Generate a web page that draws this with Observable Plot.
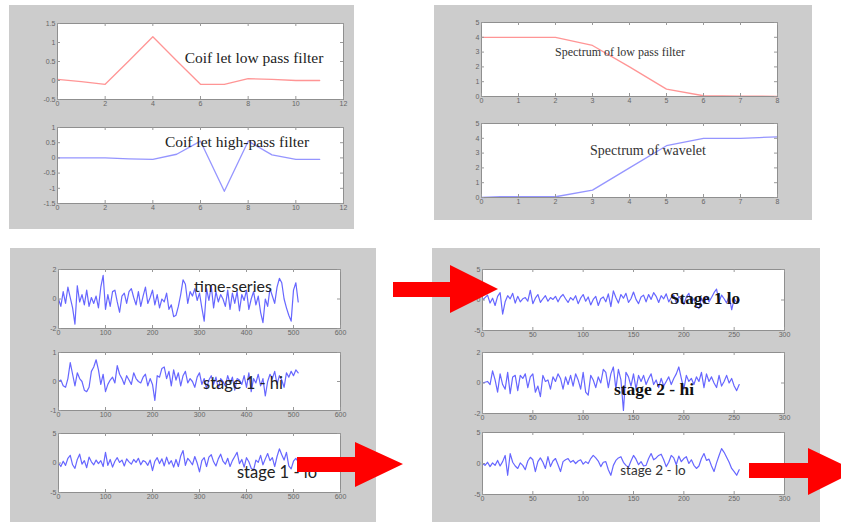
<!DOCTYPE html>
<html><head><meta charset="utf-8">
<script src="https://cdn.jsdelivr.net/npm/d3@7"></script>
<script src="https://cdn.jsdelivr.net/npm/@observablehq/plot@0.6"></script>
<style>
html,body{margin:0;padding:0;background:#fff;}
#root{position:relative;width:841px;height:522px;overflow:hidden;background:#fff;}
.panel{position:absolute;background:#cccccc;}
.lbl{position:absolute;white-space:nowrap;transform:translate(-50%,-50%);color:#222;line-height:1;}
#arrows{position:absolute;left:0;top:0;z-index:5;}
</style></head><body><div id="root"></div>
<script>
// ---------- data ----------
const filterX = [0,1,2,3,4,5,6,7,8,9,10,11];
const lowPass = [0.03,-0.03,-0.1,0.52,1.15,0.52,-0.1,-0.1,0.05,0.03,0.0,0.0];
const highPass = [0,0,0,-0.03,-0.05,0.12,0.55,-1.1,0.55,0.1,-0.05,-0.05];
const filterXTicks = [0,2,4,6,8,10,12];
const lowYTicks = [-0.5,0,0.5,1,1.5];
const highYTicks = [-1.5,-1,-0.5,0,0.5,1];

const specX = [0,0.5,1,2,3,4,5,6,7,7.5,8];
const specLow = [4,4,4,4,3.45,2,0.5,0.05,0.03,0.03,0];
const specWave = [0,0.05,0.05,0.05,0.5,2,3.5,4,4,4.05,4.1];
const specXTicks = [0,1,2,3,4,5,6,7,8];
const specYTicks = [0,1,2,3,4,5];

const timeSeries = [0.0,-0.5,0.5,-0.3,0.8,0.1,-0.6,-1.7,0.9,-0.2,0.3,-0.4,0.6,-0.5,0.1,-0.3,0.2,-0.6,0.8,1.6,-0.7,0.3,-0.5,0.5,0.6,-0.2,-0.9,0.2,0.4,-0.3,0.5,0.7,0.1,-0.4,0.5,-0.5,0.2,0.8,-0.3,0.1,0.6,-0.4,0.3,-0.6,0.0,-0.2,0.4,-0.7,-0.4,-1.2,-1.1,-0.5,0.3,1.3,1.0,-0.3,0.5,0.2,0.7,-0.1,0.4,-0.6,-1.5,0.7,-0.1,0.9,-0.6,0.5,-0.2,0.3,0.0,-0.5,0.6,-0.7,0.4,-0.3,0.5,-0.8,0.3,-0.1,0.6,-0.7,0.0,0.5,-0.4,0.2,-0.9,-1.6,0.0,-0.5,0.7,0.2,-0.3,0.8,1.4,1.1,0.0,-0.6,-1.1,-1.5,0.6,1.1,-0.2];
const stage1Hi = [0.0,0.05,-0.15,-0.2,0.1,0.65,0.25,-0.15,0.3,0.1,0.0,-0.3,-0.35,-0.2,0.35,0.5,0.75,0.4,-0.1,0.25,-0.35,-0.1,0.05,0.15,-0.05,0.55,0.25,0.1,-0.1,0.2,0.05,-0.1,0.3,0.1,0.0,-0.05,0.15,0.25,-0.15,0.1,-0.1,-0.65,0.2,0.15,0.45,0.5,0.1,0.35,-0.15,0.4,0.05,0.3,-0.15,0.2,0.35,-0.05,0.1,0.0,-0.2,0.15,0.3,-0.1,0.1,-0.25,0.05,0.2,-0.1,0.15,-0.25,0.1,0.0,-0.15,0.2,-0.05,0.15,-0.3,0.1,0.05,-0.1,0.2,-0.2,0.3,-0.35,0.1,-0.05,0.25,-0.15,0.1,-0.5,0.0,0.25,0.1,0.35,-0.1,0.2,0.05,-0.2,0.3,0.15,0.35,0.2,0.4,0.3];
const stage1Lo = [0.0,-0.6,0.3,-0.4,0.8,1.3,-0.3,-0.9,0.6,1.5,-0.2,0.4,-0.8,1.0,0.2,-0.3,0.5,-0.1,0.4,-0.6,1.8,-0.4,0.6,-0.7,0.3,0.9,0.1,0.5,-0.5,0.7,0.2,-0.2,0.6,0.1,0.8,-0.3,0.4,0.2,-0.4,0.5,-1.3,0.3,0.9,-0.1,0.7,-0.5,1.0,-0.2,0.4,-0.7,0.6,-0.6,1.2,2.1,-0.4,0.8,0.3,-0.3,1.1,0.0,-1.5,0.4,0.9,-0.6,1.0,1.4,0.2,-0.5,0.7,1.5,0.3,-0.2,0.8,-0.6,0.4,1.1,1.8,-0.1,0.6,-0.7,0.9,0.2,-0.9,-1.2,0.5,0.1,1.3,-0.3,0.7,1.6,0.4,0.9,-0.6,1.1,2.4,1.4,0.5,1.8,-0.5,-1.0,0.3,0.8,0.2];
const longXTicks = [0,100,200,300,400,500,600];
const tsYTicks = [-2,0,2];
const hi1YTicks = [-1,0,1];
const lo1YTicks = [-5,0,5];

const stage1LoDown = [0.0,0.4,0.8,-0.5,0.3,-0.9,0.6,1.2,-2.3,-0.3,0.7,0.2,1.1,-0.5,0.6,-0.3,0.2,0.4,-0.2,1.6,-0.6,0.3,0.9,-0.4,0.2,0.7,-0.2,0.4,0.1,0.6,-0.3,0.5,0.9,0.2,-0.4,0.4,0.0,0.7,-0.6,0.3,0.9,-0.2,0.5,-0.8,0.1,0.6,-0.9,0.2,0.5,-0.3,1.0,-1.1,1.5,0.4,-0.5,0.9,0.3,1.1,-0.4,0.2,1.3,0.1,-0.6,0.5,0.8,-0.3,0.9,0.1,1.2,0.6,-0.4,0.7,0.2,1.0,-0.3,0.4,0.8,-0.5,0.6,0.1,-0.7,0.5,1.1,-0.4,0.2,-1.0,-1.4,0.3,-0.6,0.6,-0.3,0.4,1.2,1.8,-0.3,0.8,0.2,-0.5,0.7,-1.6,0.2,-0.4,0.0];
const stage2Hi = [0.0,0.05,0.1,-0.1,0.8,0.2,-0.6,0.6,-0.1,-0.4,0.7,-0.7,0.4,0.5,-0.5,0.5,0.3,0.6,-0.3,0.4,0.6,-0.6,-0.2,-0.9,0.5,0.1,0.2,-0.4,0.4,0.1,0.6,0.3,-0.4,0.4,-0.1,0.5,-0.2,0.6,0.2,-0.4,0.7,-0.6,-0.8,0.5,0.2,-0.3,0.4,0.0,0.9,0.7,-0.3,0.6,1.05,-0.4,0.9,0.2,-1.8,0.7,0.4,-0.2,0.6,-0.4,0.5,0.1,0.5,-0.1,0.3,0.6,-0.1,0.2,-0.3,0.3,-0.2,0.1,0.4,-0.1,0.3,0.6,1.05,0.3,-0.4,0.5,0.1,0.3,-0.1,0.4,0.1,0.7,-0.3,0.6,0.1,0.4,0.0,-0.3,0.5,-0.2,0.1,0.5,0.0,0.3,-0.2,-0.5,-0.1];
const stage2Lo = [0.0,-0.3,0.2,-0.5,0.1,-0.3,0.5,-0.4,0.3,1.3,-1.9,1.6,0.2,-0.4,-0.8,0.1,-0.3,-1.0,0.4,1.0,0.6,-1.3,0.3,0.9,0.2,-0.8,1.1,-0.5,0.4,0.8,-0.2,-1.3,0.3,0.6,0.8,0.2,0.5,0.0,0.4,0.6,-0.1,0.3,0.0,0.8,1.3,0.9,0.4,-0.5,0.2,0.3,-1.0,-1.9,-0.3,0.5,0.9,1.1,0.2,-0.3,-0.6,0.4,1.3,0.7,-0.2,0.3,-0.4,-0.3,0.8,1.6,0.6,0.9,1.3,1.5,0.6,-0.5,0.2,1.3,0.9,-0.2,1.2,0.3,0.8,1.1,0.0,0.6,-0.3,-0.8,-0.4,0.8,1.6,0.5,0.7,-0.4,-1.3,0.1,1.3,2.4,1.8,1.0,0.2,-0.8,-1.3,-1.9,-1.0];
const shortXTicks = [0,50,100,150,200,250,300];
const hi2YTicks = [-2,0,2];
const lo5YTicks = [-5,0,5];

const labels = ["Coif let low pass filter","Coif let high-pass filter","Spectrum of low pass filter","Spectrum of wavelet","time-series","stage 1 - hi","stage 1 - lo","Stage 1 lo","stage 2 - hi","stage 2 - lo"];

// ---------- drawing ----------
const root = document.getElementById("root");
function panel(l,t,r,b){const d=document.createElement("div");d.className="panel";Object.assign(d.style,{left:l+"px",top:t+"px",width:(r-l)+"px",height:(b-t)+"px"});root.appendChild(d);}
panel(9,5,354,229); panel(434,5,812,220); panel(10,248,376,522); panel(432,248,820,522);

const pts = (xs, ys) => ys.map((y,i)=>({x: xs[i], y}));
const idx = (ys, step) => ys.map((y,i)=>({x: i*step, y}));
const fmt = d => String(d);

function sub(left, top, right, bottom, xDomain, xTicks, yDomain, yTicks, data, color, sw) {
  const w = right-left, h = bottom-top;
  const mL = 24, mR = 8, mT = 6, mB = 13;
  const svg = Plot.plot({
    width: w+mL+mR, height: h+mT+mB,
    marginLeft: mL, marginRight: mR, marginTop: mT, marginBottom: mB,
    style: {background: "transparent", overflow: "visible", fontFamily: "Liberation Sans, sans-serif"},
    x: {domain: xDomain}, y: {domain: yDomain},
    marks: [
      Plot.frame({fill: "white", stroke: "none"}),
      Plot.line(data, {x: "x", y: "y", stroke: color, strokeWidth: sw, strokeOpacity: 0.8}),
      Plot.frame({stroke: "#8f8f8f"}),
      Plot.tickX(xTicks, {x: d=>d, insetBottom: h-3, stroke: "#999"}),
      Plot.tickX(xTicks, {x: d=>d, insetTop: h-3, stroke: "#999"}),
      Plot.tickY(yTicks, {y: d=>d, insetRight: w-3, stroke: "#999"}),
      Plot.tickY(yTicks, {y: d=>d, insetLeft: w-3, stroke: "#999"}),
      Plot.axisX(xTicks, {tickSize: 0, tickPadding: 2, fontSize: 7, fill: "#666", label: null, tickFormat: fmt}),
      Plot.axisY(yTicks, {tickSize: 0, tickPadding: 2, fontSize: 7, fill: "#666", label: null, tickFormat: fmt})
    ]
  });
  Object.assign(svg.style, {position: "absolute", left: (left-mL)+"px", top: (top-mT)+"px"});
  root.appendChild(svg);
}

const red = "#ff7a7a", lblue = "#7a7aff", blue = "#4040ff";
sub(57,23,343,99,[0,12],filterXTicks,[-0.5,1.5],lowYTicks,pts(filterX,lowPass),red,1.3);
sub(57,127,343,203,[0,12],filterXTicks,[-1.5,1],highYTicks,pts(filterX,highPass),lblue,1.3);
sub(481,22,777,96,[0,8],specXTicks,[0,5],specYTicks,pts(specX,specLow),red,1.3);
sub(481,123,777,197,[0,8],specXTicks,[0,5],specYTicks,pts(specX,specWave),lblue,1.3);
sub(58,269,340,328,[0,600],longXTicks,[-2,2],tsYTicks,idx(timeSeries,5),blue,1.2);
sub(58,352,340,410,[0,600],longXTicks,[-1,1],hi1YTicks,idx(stage1Hi,5),blue,1.2);
sub(58,433,340,492,[0,600],longXTicks,[-5,5],lo1YTicks,idx(stage1Lo,5),blue,1.2);
sub(482,269,784,330,[0,300],shortXTicks,[-5,5],lo5YTicks,idx(stage1LoDown,2.5),blue,1.2);
sub(482,352,784,413,[0,300],shortXTicks,[-2,2],hi2YTicks,idx(stage2Hi,2.5),blue,1.2);
sub(482,432,784,494,[0,300],shortXTicks,[-5,5],lo5YTicks,idx(stage2Lo,2.5),blue,1.2);

// labels
const serif = "'Liberation Serif', 'DejaVu Serif', serif", sans = "Lato, 'Liberation Sans', sans-serif";
const lblStyle = [
  [254,58,serif,15.5,400,"#222"],
  [237,142,serif,15.5,400,"#222"],
  [620,52,serif,12,400,"#333"],
  [648,151,serif,14,400,"#333"],
  [233,286,sans,16,400,"#222"],
  [243,383,sans,16.5,400,"#222"],
  [277,472,sans,16.5,400,"#222"],
  [705,298,serif,17,700,"#111"],
  [654,390,serif,17.5,700,"#111"],
  [653,471,sans,13.5,400,"#333"]
];
labels.forEach((t,i)=>{
  const [x,y,ff,fs,fw,c] = lblStyle[i];
  const d = document.createElement("div"); d.className="lbl"; d.textContent=t;
  Object.assign(d.style,{left:x+"px",top:y+"px",fontFamily:ff,fontSize:fs+"px",fontWeight:fw,color:c});
  root.appendChild(d);
});

// arrows
const ns="http://www.w3.org/2000/svg";
const a = document.createElementNS(ns,"svg"); a.setAttribute("id","arrows"); a.setAttribute("width",841); a.setAttribute("height",522);
[["393,282 450,282 450,265 498,289 450,313 450,297 393,297"],
 ["297,457 355,457 355,442 403,464 355,487 355,472 297,472"],
 ["749,463 808,463 808,448 856,471 808,495 808,478 749,478"]].forEach(([p])=>{
  const poly=document.createElementNS(ns,"polygon"); poly.setAttribute("points",p); poly.setAttribute("fill","#ff0000"); a.appendChild(poly);
});
root.appendChild(a);
</script></body></html>
